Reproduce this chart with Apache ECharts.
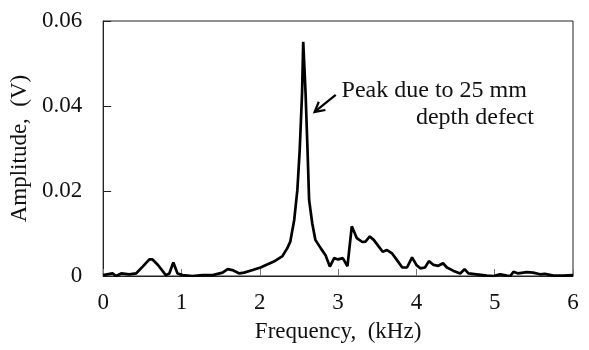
<!DOCTYPE html>
<html>
<head>
<meta charset="utf-8">
<script src="https://cdn.jsdelivr.net/npm/echarts@6/dist/echarts.min.js"></script>
<style>
  html, body { margin: 0; padding: 0; background: #fff; }
  #chart { width: 589px; height: 350px; }
</style>
</head>
<body>
<div id="chart"></div>
<script>
// frequency (kHz)
var freq = [0, 0.12, 0.165, 0.23, 0.335, 0.42, 0.505, 0.59, 0.63, 0.70, 0.80, 0.845, 0.896, 0.95, 1.015, 1.14, 1.27, 1.40, 1.525, 1.59,
  1.65, 1.74, 1.80, 1.91, 2.01, 2.08, 2.18, 2.29, 2.35, 2.39, 2.44, 2.48, 2.51, 2.54, 2.555, 2.585, 2.61, 2.63, 2.67, 2.71,
  2.78, 2.84, 2.895, 2.95, 3.0, 3.06, 3.12, 3.175, 3.24, 3.31, 3.35, 3.405, 3.455, 3.52, 3.57, 3.625, 3.69, 3.75, 3.82, 3.88,
  3.945, 4.0, 4.05, 4.11, 4.16, 4.22, 4.28, 4.34, 4.39, 4.475, 4.56, 4.615, 4.665, 4.77, 4.9, 4.985, 5.07, 5.155, 5.2, 5.24,
  5.30, 5.41, 5.49, 5.58, 5.64, 5.75, 5.87, 6.0];
// amplitude (V)
var amp = [0.0002, 0.0006, 0, 0.0006, 0.0004, 0.0006, 0.0022, 0.0039, 0.0039, 0.0026, 0.0002, 0.0006, 0.0032, 0.0006, 0.0002, 0, 0.0002, 0.0002, 0.0008, 0.0016,
  0.0014, 0.0006, 0.0008, 0.0014, 0.002, 0.0026, 0.0034, 0.0047, 0.0065, 0.0081, 0.0132, 0.0202, 0.0296, 0.043, 0.0551, 0.043, 0.0296, 0.0179, 0.0124, 0.0085,
  0.0065, 0.0049, 0.0022, 0.0042, 0.0039, 0.0042, 0.0023, 0.0117, 0.0089, 0.008, 0.0081, 0.0093, 0.0085, 0.0069, 0.0057, 0.0061, 0.0053, 0.0038, 0.002, 0.002,
  0.0044, 0.0026, 0.0018, 0.002, 0.0035, 0.0026, 0.0024, 0.003, 0.002, 0.0012, 0.0006, 0.0016, 0.0006, 0.0004, 0.0001, 0, 0.0004, 0.0001, 0, 0.001,
  0.0006, 0.0009, 0.0008, 0.0004, 0.0005, 0.0001, 0.0001, 0.0002];

var xTicks = [0, 1, 2, 3, 4, 5, 6];
var yTicks = [0, 0.02, 0.04, 0.06];

// annotation, in data coordinates
var noteLines = ["Peak due to 25 mm", "depth defect"];
var arrowFrom = [2.97, 0.0426];
var arrowTo = [2.70, 0.0386];
var noteLine1At = [3.045, 0.0435]; // left edge
var noteLine2At = [5.50, 0.0373];  // right edge

var FONT = "Liberation Serif";

var chart = echarts.init(document.getElementById("chart"));

var option = {
  animation: false,
  grid: {
    left: 102, right: 16, top: 21, bottom: 74,
    show: true, borderColor: "#222", borderWidth: 1
  },
  xAxis: {
    type: "value",
    min: xTicks[0], max: xTicks[xTicks.length - 1], interval: 1,
    name: "Frequency,  (kHz)",
    nameLocation: "middle", nameGap: 44,
    nameTextStyle: { fontFamily: FONT, fontSize: 23, color: "#111" },
    axisLine: { lineStyle: { color: "#222", width: 1 } },
    axisTick: { inside: true, length: 7, lineStyle: { color: "#777" } },
    axisLabel: { fontFamily: FONT, fontSize: 23, color: "#111", margin: 15 },
    splitLine: { show: false }
  },
  yAxis: {
    type: "value",
    min: yTicks[0], max: yTicks[yTicks.length - 1], interval: 0.02,
    name: "Amplitude,  (V)",
    nameLocation: "middle", nameGap: 68,
    nameTextStyle: { fontFamily: FONT, fontSize: 23, color: "#111" },
    axisLine: { show: true, lineStyle: { color: "#222", width: 1 } },
    axisTick: { show: true, inside: true, length: 8, lineStyle: { color: "#222" } },
    axisLabel: {
      fontFamily: FONT, fontSize: 23, color: "#111", margin: 21,
      formatter: function (v) { return v === 0 ? "0" : v.toFixed(2); }
    },
    splitLine: { show: false }
  },
  series: [{
    type: "line",
    data: freq.map(function (f, i) { return [f, amp[i]]; }),
    showSymbol: false,
    smooth: false,
    lineStyle: { color: "#000", width: 2.7 },
    z: 3
  }]
};
chart.setOption(option);

// annotation drawn after the scales are known
function px(p) { return chart.convertToPixel({ gridIndex: 0 }, p); }
var a = px(arrowFrom), b = px(arrowTo);
var ang = Math.atan2(a[1] - b[1], a[0] - b[0]);
var head = 11, spread = 0.5;
var w1 = [b[0] + head * Math.cos(ang + spread), b[1] + head * Math.sin(ang + spread)];
var w2 = [b[0] + head * Math.cos(ang - spread), b[1] + head * Math.sin(ang - spread)];
var t1 = px(noteLine1At), t2 = px(noteLine2At);

chart.setOption({
  graphic: [
    { type: "line", shape: { x1: a[0], y1: a[1], x2: b[0], y2: b[1] }, style: { stroke: "#000", lineWidth: 2.2 }, z: 10 },
    { type: "polyline", shape: { points: [w1, b, w2] }, style: { stroke: "#000", lineWidth: 2.2, fill: null }, z: 10 },
    { type: "text", x: t1[0], y: t1[1], style: { text: noteLines[0], font: "24px " + FONT, fill: "#111", textAlign: "left", textVerticalAlign: "middle" }, z: 10 },
    { type: "text", x: t2[0], y: t2[1], style: { text: noteLines[1], font: "24px " + FONT, fill: "#111", textAlign: "right", textVerticalAlign: "middle" }, z: 10 }
  ]
});
</script>
</body>
</html>
